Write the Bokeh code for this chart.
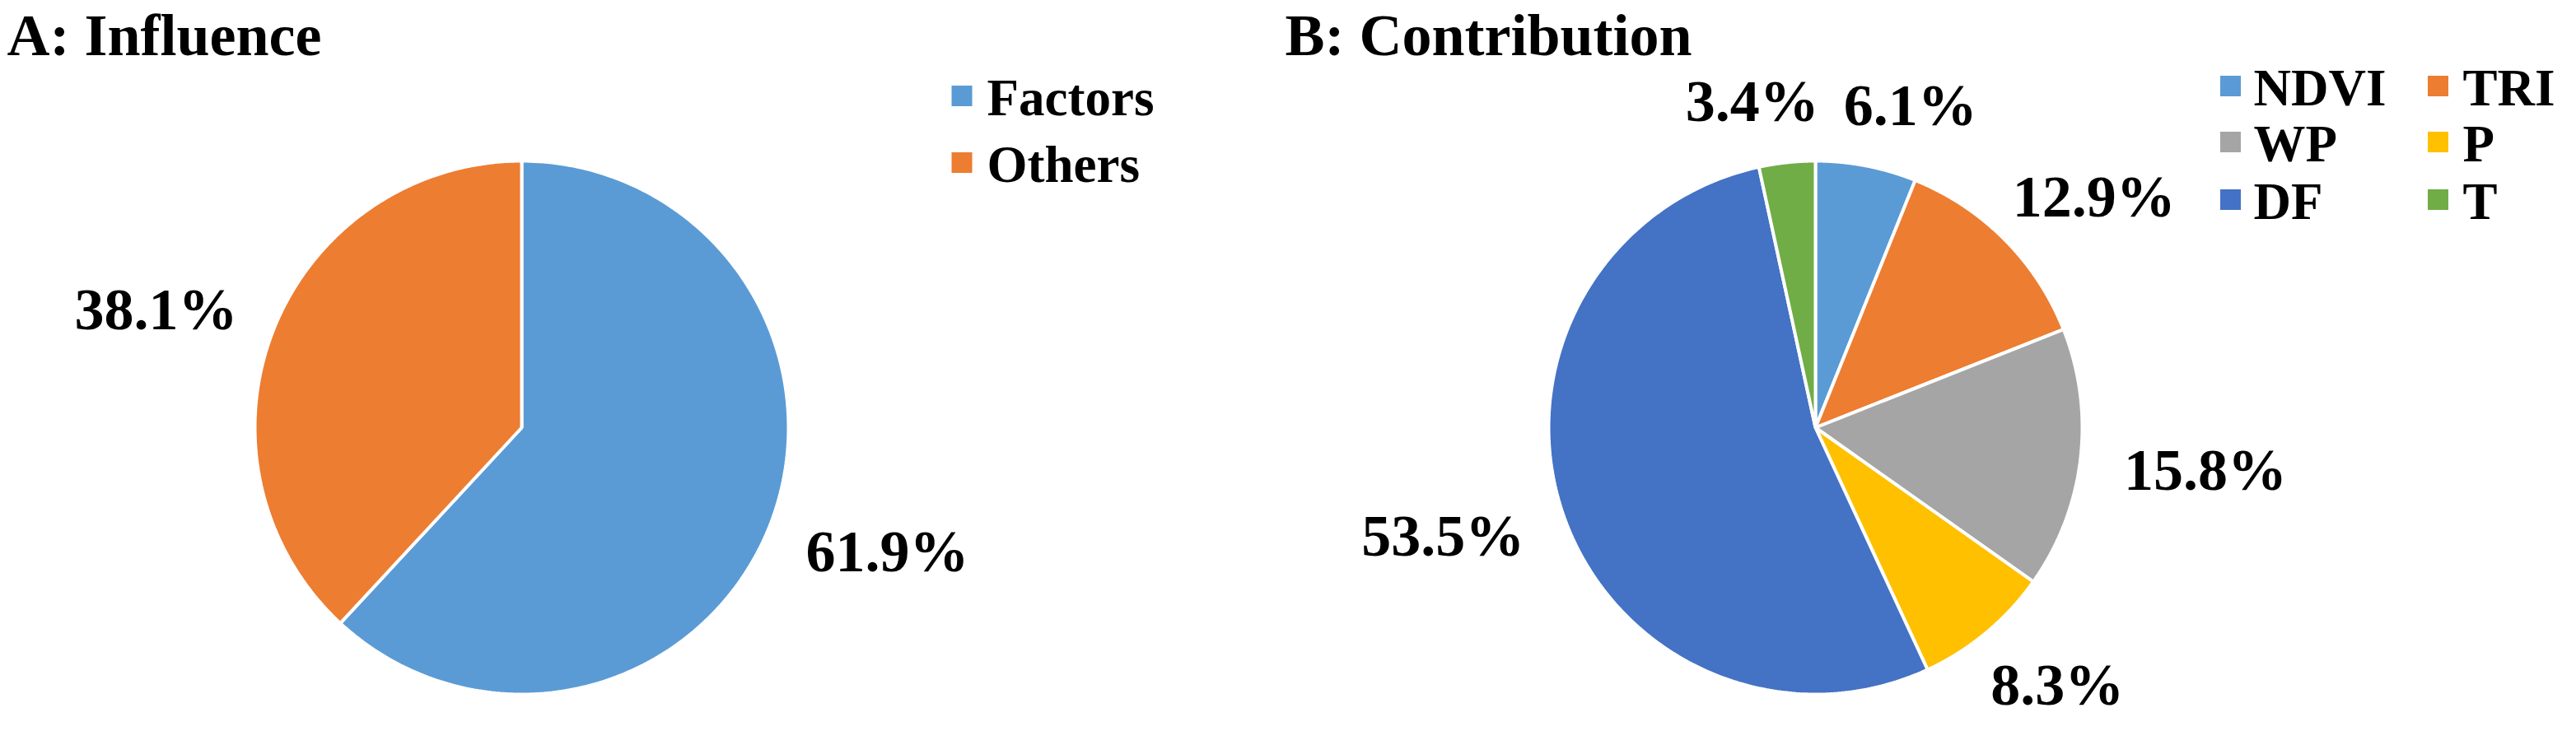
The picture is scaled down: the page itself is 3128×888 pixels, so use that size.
import numpy as np
from bokeh.plotting import figure
from bokeh.models import Range1d
from bokeh.core.properties import value
from bokeh.embed import file_html
from bokeh.resources import INLINE

# ---- data ----
influence_labels = ["Factors", "Others"]
influence_values = [61.9, 38.1]
influence_colors = ["#5B9BD5", "#ED7D31"]

contrib_labels = ["NDVI", "TRI", "WP", "P", "DF", "T"]
contrib_values = [6.1, 12.9, 15.8, 8.3, 53.5, 3.4]
contrib_colors = ["#5B9BD5", "#ED7D31", "#A5A5A5", "#FFC000", "#4472C4", "#70AD47"]

titles = ["A: Influence", "B: Contribution"]

# ---- layout (reference pixel coordinates) ----
W, H = 3112, 872
R = 324
LABEL_R = 378
LBL_SIZE = 72
LEG_SIZE = 63
CAP = 49
FONT = value("Liberation Serif")
# empirical correction of the rendered baseline position (fraction of font size)
BASE_FIX = 0.29

p = figure(width=W, height=H, output_backend="svg", toolbar_location=None,
           x_range=Range1d(8, 8 + W), y_range=Range1d(8 + H, 8),
           x_axis_type=None, y_axis_type=None, min_border=0,
           background_fill_color="white", border_fill_color="white")
p.outline_line_color = None
p.grid.visible = False

CW = {".": 0.25, "%": 1.0}


def text_width(s, size):
    return sum(CW.get(c, 0.5) for c in s) * size


def draw_pie(cx, cy, vals, colors):
    total = float(sum(vals))
    xs, ys, boxes = [], [], []
    start = 0.0
    for v in vals:
        a0 = start / total * 2 * np.pi
        a1 = (start + v) / total * 2 * np.pi
        th = np.linspace(a0, a1, 240)
        xs.append([cx] + list(cx + R * np.sin(th)))
        ys.append([cy] + list(cy - R * np.cos(th)))
        mid = (a0 + a1) / 2
        dx, dy = np.sin(mid), -np.cos(mid)
        s = f"{v:.1f}%"
        w = text_width(s, LBL_SIZE)
        bx = cx + dx * (LABEL_R + w / 2)
        by = cy + dy * (LABEL_R + CAP / 2)
        boxes.append([bx, by, w, s])
        start += v
    # simple overlap resolution between neighbouring labels
    n = len(boxes)
    gap = 30
    for i in range(n):
        a, b = boxes[i], boxes[(i + 1) % n]
        if i == (i + 1) % n:
            continue
        if abs(a[1] - b[1]) < CAP + 10:
            left, right = (a, b) if a[0] < b[0] else (b, a)
            need = (left[2] / 2 + right[2] / 2 + gap) - (right[0] - left[0])
            if need > 0:
                left[0] -= need / 2
                right[0] += need / 2
    lx = [b[0] for b in boxes]
    ly = [b[1] + CAP / 2 - BASE_FIX * LBL_SIZE for b in boxes]
    lt = [b[3] for b in boxes]
    p.patches(xs=xs, ys=ys, fill_color=colors, line_color="white", line_width=4)
    p.text(x=lx, y=ly, text=lt, text_font=FONT, text_font_style="bold",
           text_font_size=f"{LBL_SIZE}px", text_color="black",
           text_align="center", text_baseline="alphabetic")


draw_pie(641, 527, influence_values, influence_colors)
draw_pie(2212, 527, contrib_values, contrib_colors)

# titles
p.text(x=[16, 1568], y=[71 - BASE_FIX * 72] * 2, text=titles, text_font=FONT,
       text_font_style="bold", text_font_size="72px", text_color="black",
       text_align="left", text_baseline="alphabetic")

leg_fix = 21 - BASE_FIX * LEG_SIZE

# legend A
rows_a = [124, 205]
p.scatter(x=[1175.5] * len(influence_labels), y=rows_a[:len(influence_labels)],
          marker="square", size=25, fill_color=influence_colors, line_color=None)
p.text(x=[1206] * len(influence_labels), y=[r + leg_fix for r in rows_a],
       text=influence_labels, text_font=FONT, text_font_style="bold",
       text_font_size=f"{LEG_SIZE}px", text_color="black", text_align="left",
       text_baseline="alphabetic")

# legend B (two columns, row-major)
col_sq = [2716, 2968]
col_tx = [2744, 2998]
rows_b = [112, 180, 250]
sx = [col_sq[i % 2] for i in range(len(contrib_labels))]
sy = [rows_b[i // 2] for i in range(len(contrib_labels))]
tx = [col_tx[i % 2] for i in range(len(contrib_labels))]
p.scatter(x=sx, y=sy, marker="square", size=25, fill_color=contrib_colors, line_color=None)
p.text(x=tx, y=[y + leg_fix for y in sy], text=contrib_labels, text_font=FONT,
       text_font_style="bold", text_font_size=f"{LEG_SIZE}px", text_color="black",
       text_align="left", text_baseline="alphabetic")

open("out.html", "w").write(file_html(p, INLINE))
